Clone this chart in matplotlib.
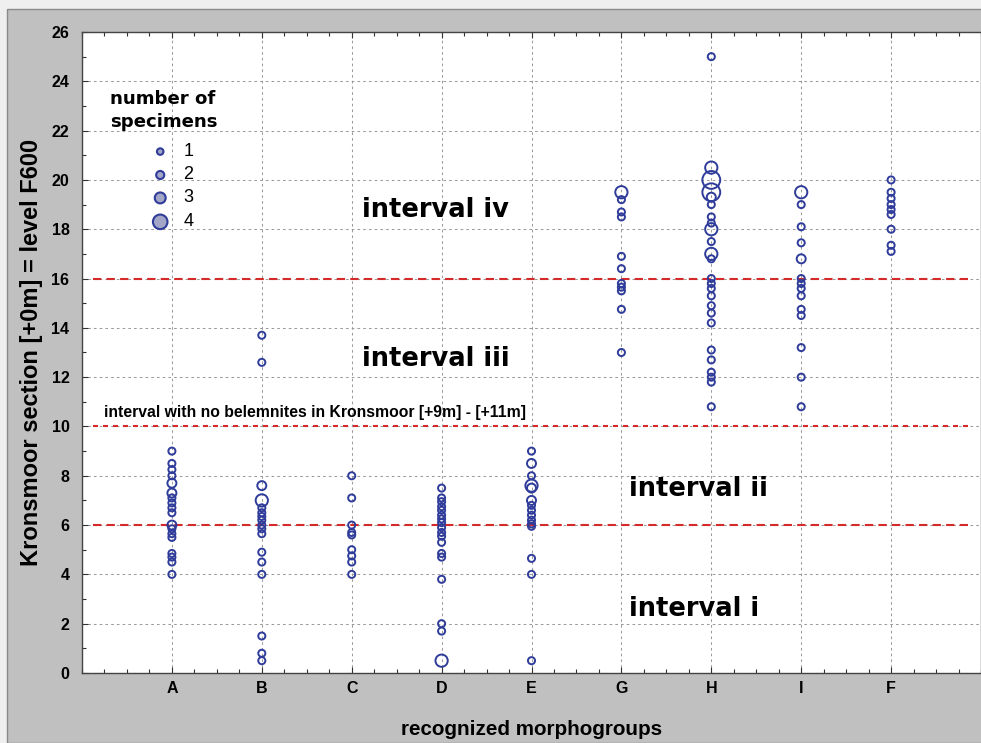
import matplotlib
matplotlib.use("Agg")
import matplotlib.pyplot as plt
from matplotlib.patches import Rectangle
from matplotlib.ticker import MultipleLocator, FixedLocator

categories = ["A", "B", "C", "D", "E", "G", "H", "I", "F"]

A_vals = [9.0, 8.5, 8.25, 8.0, 7.7, 7.3, 7.1, 6.9, 6.7, 6.5, 6.0, 5.85, 5.65, 5.5, 4.85, 4.7, 4.5, 4.0]
A_n    = [1,   1,   1,    1,   2,   2,   1,   1,   1,   1,   2,   1,    1,    1,   1,    1,   1,   1]
B_vals = [13.7, 12.6, 7.6, 7.0, 6.7, 6.5, 6.35, 6.2, 6.0, 5.85, 5.65, 4.9, 4.5, 4.0, 1.5, 0.8, 0.5]
B_n    = [1,    1,    2,   3,   1,   1,   1,    1,   1,   1,    1,    1,   1,   1,   1,   1,   1]
C_vals = [8.0, 7.1, 6.0, 5.7, 5.6, 5.0, 4.75, 4.5, 4.0]
C_n    = [1,   1,   1,   1,   1,   1,   1,    1,   1]
D_vals = [7.5, 7.1, 6.95, 6.75, 6.6, 6.4, 6.25, 6.1, 5.9, 5.7, 5.55, 5.3, 4.85, 4.7, 3.8, 2.0, 1.7, 0.5]
D_n    = [1,   1,   1,    1,    1,   1,   1,    1,   1,   1,   1,    1,   1,    1,   1,   1,   1,   3]
E_vals = [9.0, 8.5, 8.0, 7.6, 7.5, 7.0, 6.8, 6.6, 6.4, 6.2, 6.05, 5.95, 4.65, 4.0, 0.5]
E_n    = [1,   2,   1,   3,   2,   2,   1,   1,   1,   1,   1,    1,    1,    1,   1]
G_vals = [19.5, 19.2, 18.7, 18.5, 16.9, 16.4, 15.8, 15.65, 15.5, 14.75, 13.0]
G_n    = [3,    1,    1,    1,    1,    1,    1,    1,     1,    1,     1]
H_vals = [25.0, 20.5, 20.0, 19.5, 19.3, 19.0, 18.5, 18.25, 18.0, 17.5, 17.0, 16.8, 16.0, 15.8, 15.6,
          15.3, 14.9, 14.6, 14.2, 13.1, 12.7, 12.2, 12.0, 11.8, 10.8]
H_n    = [1,    3,    4,    4,    2,    1,    1,    1,     3,    1,    3,    1,    1,    1,    1,
          1,    1,    1,    1,    1,    1,    1,    1,    1,    1]
I_vals = [19.5, 19.0, 18.1, 17.45, 16.8, 16.0, 15.8, 15.6, 15.3, 14.75, 14.5, 13.2, 12.0, 10.8]
I_n    = [3,    1,    1,    1,     2,    1,    1,    1,    1,    1,     1,    1,    1,    1]
F_vals = [20.0, 19.5, 19.25, 19.0, 18.8, 18.6, 18.0, 17.35, 17.1]
F_n    = [1,    1,    1,     1,    1,    1,    1,    1,     1]

group_vals = [A_vals, B_vals, C_vals, D_vals, E_vals, G_vals, H_vals, I_vals, F_vals]
group_n = [A_n, B_n, C_n, D_n, E_n, G_n, H_n, I_n, F_n]

interval_lines = [6, 10, 16]
legend_counts = [1, 2, 3, 4]

size_map = {1: 26, 2: 42, 3: 78, 4: 165}
blue = "#2f3c9a"
red = "#d42a2a"

fig = plt.figure(figsize=(9.81, 7.43), dpi=100)
fig.patch.set_facecolor("#efefef")
fig.patches.append(Rectangle((7 / 981, 0), 1, 1 - 9 / 743, transform=fig.transFigure,
                             facecolor="#c0c0c0", edgecolor="#8a8a8a", lw=1.0, zorder=-10))

ax = fig.add_axes([82 / 981, 70 / 743, 1 - 82 / 981, (673 - 32) / 743])
ax.set_facecolor("white")
ax.set_xlim(0, 10)
ax.set_ylim(0, 26)

ax.xaxis.set_major_locator(FixedLocator(range(1, len(categories) + 1)))
ax.set_xticklabels(categories)
ax.xaxis.set_minor_locator(MultipleLocator(0.25))
ax.yaxis.set_major_locator(MultipleLocator(2))
ax.yaxis.set_minor_locator(MultipleLocator(1))
ax.tick_params(which="both", direction="in", top=True, right=False, color="#333333")
ax.tick_params(which="major", length=4, width=0.8, labelsize=11.5)
ax.tick_params(which="minor", length=3, width=0.8)
ax.tick_params(axis="x", pad=6)
ax.tick_params(axis="y", pad=9)
for lab in ax.get_xticklabels() + ax.get_yticklabels():
    lab.set_fontweight("bold")
    lab.set_family("Liberation Sans")

ax.grid(True, which="major", color="#9a9a9a", linestyle=(0, (2.5, 3)), linewidth=0.75)
ax.set_axisbelow(True)
for sp in ax.spines.values():
    sp.set_color("#444444")
    sp.set_linewidth(1.0)

for yv in interval_lines:
    ls = (0, (2.4, 2.4)) if yv == 10 else (0, (4, 2.5))
    ax.hlines(yv, 0.12, 9.87, colors=red, linestyles=ls, linewidth=1.5, zorder=2)

for i, (vals, ns) in enumerate(zip(group_vals, group_n)):
    xs = [i + 1] * len(vals)
    ax.scatter(xs, vals, s=[size_map[n] for n in ns], facecolors="none",
               edgecolors=blue, linewidths=1.4, zorder=3)

# legend
leg_y = [21.15, 20.2, 19.27, 18.3]
ax.text(0.31, 23.3, "number of", fontsize=13.1, fontweight="bold", family="DejaVu Sans",
        va="center", ha="left")
ax.text(0.31, 22.35, "specimens", fontsize=13.1, fontweight="bold", family="DejaVu Sans",
        va="center", ha="left")
ax.scatter([0.87] * 4, leg_y, s=[22, 34, 62, 110], facecolors="#a3a6c6",
           edgecolors=blue, linewidths=1.5, zorder=4)
for n, yv in zip(legend_counts, leg_y):
    ax.text(1.13, yv, str(n), fontsize=13, family="Liberation Sans", va="center", ha="left")

tk = dict(fontsize=18.5, fontweight="bold", family="DejaVu Sans", va="center", ha="left")
ax.text(3.11, 18.8, "interval iv", **tk)
ax.text(3.11, 12.75, "interval iii", **tk)
ax.text(6.09, 7.45, "interval ii", **tk)
ax.text(6.09, 2.6, "interval i", **tk)
ax.text(0.25, 10.55, "interval with no belemnites in Kronsmoor [+9m] - [+11m]",
        fontsize=11.3, fontweight="bold", family="Liberation Sans", va="center", ha="left")

ax.set_xlabel("recognized morphogroups", fontsize=14.9, fontweight="bold", family="Liberation Sans",
              labelpad=17)
ax.set_ylabel("Kronsmoor section [+0m] = level F600", fontsize=17, fontweight="bold",
              family="Liberation Sans", labelpad=6)

fig.savefig("out.png", dpi=100, facecolor=fig.get_facecolor())
